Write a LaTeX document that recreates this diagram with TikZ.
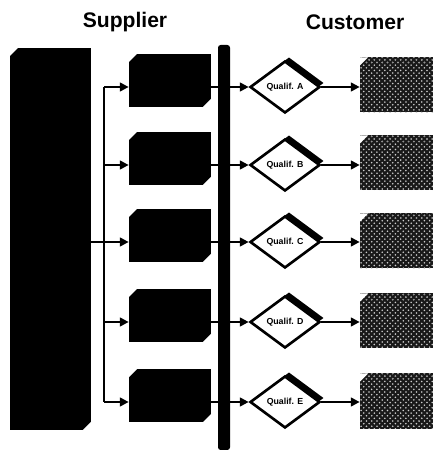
\documentclass[tikz,border=0pt]{standalone}
\usepackage{fontspec}
\setmainfont{Liberation Sans}
\usetikzlibrary{arrows.meta,shapes.geometric,shadows,patterns}

\begin{document}
\begin{tikzpicture}[
  chamfer/.style={path picture={
    \fill[white] (path picture bounding box.north west) -- ++(#1,0) -- ++(-#1,-#1) -- cycle;
    \fill[white] (path picture bounding box.south east) -- ++(-#1,0) -- ++(#1,#1) -- cycle;}},
  bigbox/.style={rectangle, fill=black, minimum width=1.62cm, minimum height=7.64cm,
    inner sep=0pt, chamfer=0.16},
  midbox/.style={rectangle, fill=black, minimum width=1.64cm, minimum height=1.06cm,
    inner sep=0pt, chamfer=0.16},
  custbox/.style={rectangle, preaction={fill=black!90}, pattern=crosshatch dots,
    pattern color=gray!40, minimum width=1.46cm, minimum height=1.1cm, inner sep=0pt,
    path picture={
      \fill[pattern=crosshatch dots, pattern color=gray!85] (path picture bounding box.north west)
        rectangle ([yshift=-0.12cm]path picture bounding box.north east);
      \fill[white] (path picture bounding box.north west) -- ++(0.16,0) -- ++(-0.16,-0.16) -- cycle;}},
  qualif/.style={diamond, draw, line width=1.5pt, fill=white, minimum width=1.4cm,
    minimum height=1.04cm, inner sep=0pt, font=\fontsize{5}{6}\selectfont\bfseries,
    drop shadow={shadow xshift=0.08cm, shadow yshift=0.08cm, fill=black, opacity=1}},
  bar/.style={rectangle, rounded corners=1.5pt, fill=black, minimum width=0.24cm,
    minimum height=8.1cm, inner sep=0pt},
  conn/.style={line width=1.1pt, -{Triangle[length=5pt,width=5pt]}},
  title/.style={font=\fontsize{12}{14}\selectfont\bfseries}
]
\useasboundingbox (0,0) rectangle (8.74,9);
% headings
\node[title] (tsup) at (2.5, 8.55) {Supplier};
\node[title] (tcus) at (7.1, 8.55) {Customer};
% supplier side
\node[bigbox] (big) at (1.01, 4.22) {};
\node[bar] (bar) at (4.48, 4.05) {};
\coordinate (busA) at (2.08, 7.26);
\coordinate (busB) at (2.08, 5.70);
\coordinate (busC) at (2.08, 4.16);
\coordinate (busD) at (2.08, 2.56);
\coordinate (busE) at (2.08, 0.96);
\node[midbox] (midA) at (3.4, 7.39) {};
\node[midbox] (midB) at (3.4, 5.83) {};
\node[midbox] (midC) at (3.4, 4.29) {};
\node[midbox] (midD) at (3.4, 2.69) {};
\node[midbox] (midE) at (3.4, 1.09) {};
\draw[line width=1.1pt] (busA) -- (busE);
\draw[conn] (big.east |- busC) -- (midC.west |- busC);
\draw[conn] (busA) -- (midA.west |- busA);
\draw[conn] (busB) -- (midB.west |- busB);
\draw[conn] (busD) -- (midD.west |- busD);
\draw[conn] (busE) -- (midE.west |- busE);
% customer side
\node[qualif] (qA) at (5.7, 7.26) {Qualif. A};
\node[qualif] (qB) at (5.7, 5.70) {Qualif. B};
\node[qualif] (qC) at (5.7, 4.16) {Qualif. C};
\node[qualif] (qD) at (5.7, 2.56) {Qualif. D};
\node[qualif] (qE) at (5.7, 0.96) {Qualif. E};
\node[custbox] (custA) at (7.93, 7.30) {};
\node[custbox] (custB) at (7.93, 5.74) {};
\node[custbox] (custC) at (7.93, 4.18) {};
\node[custbox] (custD) at (7.93, 2.58) {};
\node[custbox] (custE) at (7.93, 0.98) {};
\draw[conn] (midA.east |- qA) -- (qA);
\draw[conn] (midB.east |- qB) -- (qB);
\draw[conn] (midC.east |- qC) -- (qC);
\draw[conn] (midD.east |- qD) -- (qD);
\draw[conn] (midE.east |- qE) -- (qE);
\draw[conn] (qA) -- (custA.west |- qA);
\draw[conn] (qB) -- (custB.west |- qB);
\draw[conn] (qC) -- (custC.west |- qC);
\draw[conn] (qD) -- (custD.west |- qD);
\draw[conn] (qE) -- (custE.west |- qE);
\end{tikzpicture}
\end{document}
